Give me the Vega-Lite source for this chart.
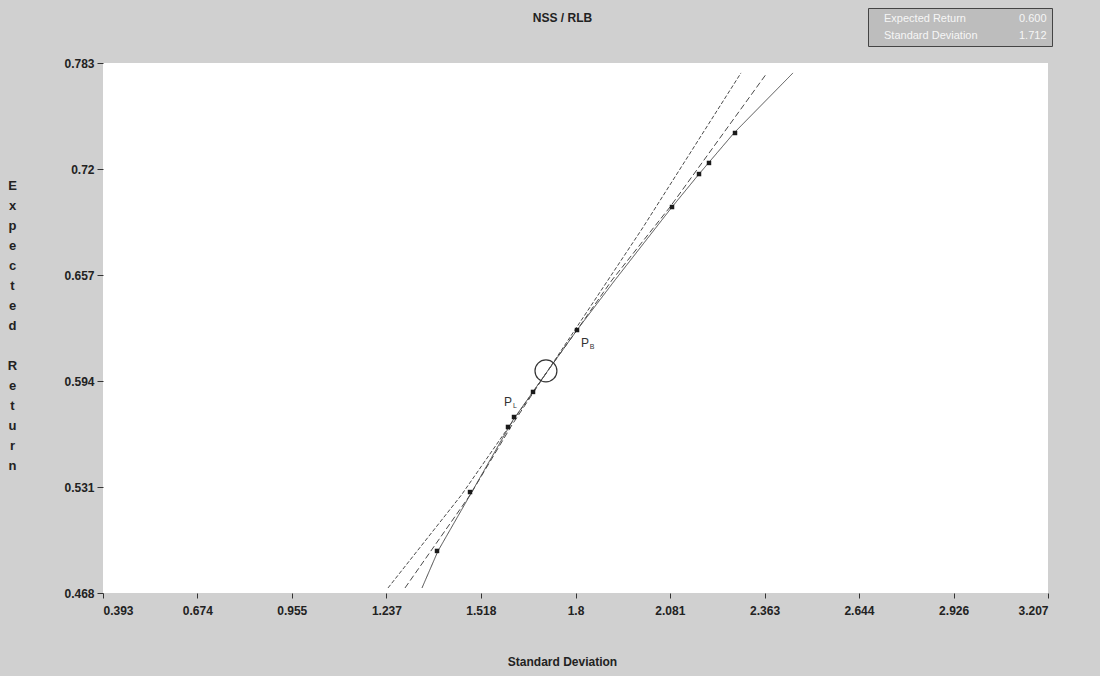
{
  "$schema": "https://vega.github.io/schema/vega-lite/v6.json",
  "width": 945,
  "height": 530,
  "autosize": {"type": "none"},
  "padding": {"left": 103, "top": 63, "right": 52, "bottom": 83},
  "background": "#d0d0d0",
  "title": {
    "text": "NSS / RLB",
    "anchor": "middle",
    "dx": -13,
    "offset": 0,
    "dy": 17,
    "font": "Liberation Sans Narrow, Liberation Sans",
    "fontSize": 12,
    "fontWeight": "bold",
    "color": "#222"
  },
  "config": {
    "view": {"fill": "white", "stroke": null},
    "axis": {
      "grid": false,
      "domain": false,
      "tickColor": "#333",
      "labelFont": "Liberation Sans Narrow, Liberation Sans",
      "labelFontWeight": "bold",
      "labelFontSize": 12,
      "labelColor": "#222",
      "titleFont": "Liberation Sans Narrow, Liberation Sans",
      "titleFontWeight": "bold",
      "titleFontSize": 12,
      "titleColor": "#222"
    }
  },
  "datasets": {
    "curves": [
      {"series": "A", "sd": 1.2417, "er": 0.4710},
      {"series": "A", "sd": 1.4601, "er": 0.5262},
      {"series": "A", "sd": 1.7151, "er": 0.5994},
      {"series": "A", "sd": 2.0000, "er": 0.6850},
      {"series": "A", "sd": 2.2928, "er": 0.7771},
      {"series": "B", "sd": 1.2923, "er": 0.4710},
      {"series": "B", "sd": 1.4859, "er": 0.5262},
      {"series": "B", "sd": 1.6109, "er": 0.5679},
      {"series": "B", "sd": 1.7151, "er": 0.5994},
      {"series": "B", "sd": 1.8045, "er": 0.6243},
      {"series": "B", "sd": 1.9087, "er": 0.6540},
      {"series": "B", "sd": 2.0814, "er": 0.6974},
      {"series": "B", "sd": 2.3703, "er": 0.7771},
      {"series": "C", "sd": 1.3429, "er": 0.4710},
      {"series": "C", "sd": 1.3906, "er": 0.4930},
      {"series": "C", "sd": 1.4859, "er": 0.5262},
      {"series": "C", "sd": 1.6139, "er": 0.5708},
      {"series": "C", "sd": 1.7151, "er": 0.5994},
      {"series": "C", "sd": 1.8045, "er": 0.6243},
      {"series": "C", "sd": 1.9176, "er": 0.6540},
      {"series": "C", "sd": 2.0874, "er": 0.6974},
      {"series": "C", "sd": 2.1678, "er": 0.7170},
      {"series": "C", "sd": 2.2720, "er": 0.7414},
      {"series": "C", "sd": 2.4477, "er": 0.7771}
    ],
    "dots": [
      {"sd": 1.3876, "er": 0.4930},
      {"sd": 1.4859, "er": 0.5280},
      {"sd": 1.5990, "er": 0.5667},
      {"sd": 1.6169, "er": 0.5726},
      {"sd": 1.6735, "er": 0.5875},
      {"sd": 1.8045, "er": 0.6243},
      {"sd": 2.0874, "er": 0.6974},
      {"sd": 2.1678, "er": 0.7170},
      {"sd": 2.1975, "er": 0.7236},
      {"sd": 2.2750, "er": 0.7414}
    ],
    "target": [
      {"sd": 1.712, "er": 0.600}
    ],
    "labels": [
      {"main": "P", "sub": "B", "sd": 1.8283, "er": 0.6166},
      {"main": "P", "sub": "L", "sd": 1.5990, "er": 0.5815}
    ],
    "info": [
      {"entry": "Expected Return"},
      {"entry": "0.600"},
      {"entry": "Standard Deviation"},
      {"entry": "1.712"}
    ]
  },
  "encoding": {
    "x": {
      "field": "sd",
      "type": "quantitative",
      "scale": {"domain": [0.393, 3.207], "nice": false, "zero": false},
      "axis": {
        "values": [0.393, 0.674, 0.955, 1.237, 1.518, 1.8, 2.081, 2.363, 2.644, 2.926, 3.207],
        "format": ".4~g",
        "tickSize": 5,
        "labelPadding": 7,
        "title": "Standard Deviation",
        "titleX": 459,
        "titleY": 68,
        "titleBaseline": "middle",
        "titleAlign": "center"
      }
    },
    "y": {
      "field": "er",
      "type": "quantitative",
      "scale": {"domain": [0.468, 0.783], "nice": false, "zero": false},
      "axis": {
        "values": [0.468, 0.531, 0.594, 0.657, 0.72, 0.783],
        "format": ".4~g",
        "tickSize": 6,
        "labelPadding": 3,
        "title": ["E", "x", "p", "e", "c", "t", "e", "d", "\u200b", "R", "e", "t", "u", "r", "n"],
        "titleAngle": 0,
        "titleX": -91,
        "titleY": 122,
        "titleAlign": "center",
        "titleBaseline": "middle",
        "titleLineHeight": 20,
        "titleFontSize": 13
      }
    }
  },
  "layer": [
    {
      "data": {"name": "curves"},
      "mark": {"type": "line", "color": "#4a4a4a", "strokeWidth": 1},
      "encoding": {
        "detail": {"field": "series"},
        "strokeDash": {
          "field": "series",
          "type": "nominal",
          "scale": {"domain": ["A", "B", "C"], "range": [[4, 2], [6, 3], [1, 0]]},
          "legend": null
        }
      }
    },
    {
      "data": {"name": "dots"},
      "mark": {"type": "point", "shape": "square", "filled": true, "color": "#1a1a1a", "size": 20, "opacity": 1}
    },
    {
      "data": {"name": "target"},
      "mark": {"type": "point", "shape": "circle", "filled": false, "color": "#333", "size": 480, "strokeWidth": 1.2, "opacity": 1}
    },
    {
      "data": {"name": "labels"},
      "mark": {"type": "text", "font": "Liberation Sans", "fontSize": 12, "fill": "#333", "align": "center", "baseline": "middle"},
      "encoding": {"text": {"field": "main"}}
    },
    {
      "data": {"name": "labels"},
      "mark": {"type": "text", "font": "Liberation Sans", "fontSize": 7, "fill": "#333", "align": "center", "baseline": "middle", "dx": 7, "dy": 4},
      "encoding": {"text": {"field": "sub"}}
    },
    {
      "data": {"name": "info"},
      "mark": {"type": "point", "opacity": 0},
      "encoding": {
        "x": {"datum": 1.712},
        "y": {"datum": 0.6},
        "color": {
          "field": "entry",
          "type": "nominal",
          "scale": {"domain": ["Expected Return", "0.600", "Standard Deviation", "1.712"], "range": ["#ffffff", "#ffffff", "#ffffff", "#ffffff"]},
          "legend": {
            "title": null,
            "orient": "none",
            "legendX": 765,
            "legendY": -55,
            "direction": "horizontal",
            "columns": 2,
            "columnPadding": 30,
            "rowPadding": 5,
            "padding": 5,
            "fillColor": "#bdbdbd",
            "strokeColor": "#444",
            "symbolSize": 0,
            "symbolOpacity": 0,
            "symbolStrokeWidth": 0,
            "labelOffset": 0,
            "labelColor": "#f6f6f6",
            "labelFont": "Liberation Sans",
            "labelFontSize": 11,
            "labelLimit": 200
          }
        }
      }
    }
  ]
}
